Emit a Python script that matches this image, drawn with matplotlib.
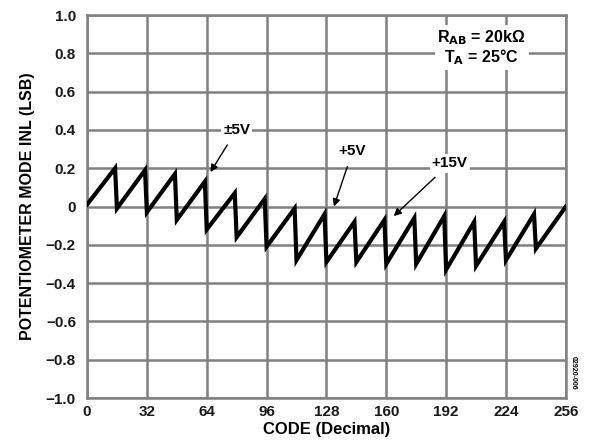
import matplotlib
matplotlib.use("Agg")
import matplotlib.pyplot as plt
import numpy as np

# INL sawtooth: value at start of each 16-code segment and at its end
seg_start = [0, 16, 32, 48, 64, 80, 96, 112, 128, 144, 160, 176, 192, 208, 224, 240]
trough = [0.01, -0.01, -0.03, -0.07, -0.12, -0.16, -0.21, -0.28, -0.29, -0.29,
          -0.30, -0.30, -0.33, -0.31, -0.28, -0.22]
peak = [0.20, 0.19, 0.17, 0.13, 0.07, 0.04, -0.01, -0.04, -0.08, -0.07,
        -0.06, -0.05, -0.08, -0.08, -0.04, 0.0]

x_ticks = [0, 32, 64, 96, 128, 160, 192, 224, 256]
y_ticks = [1.0, 0.8, 0.6, 0.4, 0.2, 0, -0.2, -0.4, -0.6, -0.8, -1.0]
y_labels = ["1.0", "0.8", "0.6", "0.4", "0.2", "0", "\u22120.2", "\u22120.4",
            "\u22120.6", "\u22120.8", "\u22121.0"]

codes = []
inl = []
for s, t, p in zip(seg_start, trough, peak):
    end = 256 if s == 240 else s + 15
    codes += [s, end]
    inl += [t, p]

plt.rcParams['font.family'] = ['Liberation Sans', 'DejaVu Sans']
plt.rcParams['font.weight'] = 'bold'

fig = plt.figure(figsize=(5.9, 4.46), dpi=100)
ax = fig.add_axes([0.1475, 0.1076, 0.8115, 0.8587])

ax.plot(codes, inl, color='black', lw=3, solid_joinstyle='miter', zorder=3)

ax.set_xlim(0, 256)
ax.set_ylim(-1.0, 1.0)
ax.set_xticks(x_ticks)
ax.set_yticks(y_ticks)
ax.set_yticklabels(y_labels)
ax.grid(True, color='#808080', lw=1.8)
for sp in ax.spines.values():
    sp.set_color('#808080')
    sp.set_linewidth(1.8)
ax.tick_params(length=0, labelsize=11, colors='#1a1a1a')
ax.tick_params(axis='y', pad=8)
ax.tick_params(axis='x', pad=5)
for lab in ax.get_xticklabels() + ax.get_yticklabels():
    lab.set_fontweight('bold')

ax.set_xlabel("CODE (Decimal)", fontsize=12, fontweight='bold', labelpad=2)
ax.set_ylabel("POTENTIOMETER MODE INL (LSB)", fontsize=11.5, fontweight='bold', labelpad=8)

box = dict(facecolor='white', edgecolor='none', pad=1.5)
arrow = dict(arrowstyle='-|>', color='black', lw=1, shrinkA=5, shrinkB=0)
ax.annotate("\u00b15V", xy=(66, 0.18), xytext=(80, 0.40), fontsize=11, fontweight='bold',
            ha='center', va='center', bbox=box, arrowprops=arrow)
ax.annotate("+5V", xy=(132, 0.0), xytext=(142, 0.29), fontsize=11, fontweight='bold',
            ha='center', va='center', bbox=box, arrowprops=arrow)
ax.annotate("+15V", xy=(164, -0.05), xytext=(194, 0.225), fontsize=11, fontweight='bold',
            ha='center', va='center', bbox=box, arrowprops=arrow)

ax.text(211, 0.83, "R$_{\\mathbf{AB}}$ = 20k\u03a9\nT$_{\\mathbf{A}}$ = 25\u00b0C", fontsize=11.5,
        fontweight='bold', ha='center', va='center', linespacing=1.05,
        bbox=dict(facecolor='white', edgecolor='none', pad=2))

fig.text(0.972, 0.165, "02920-006", rotation=270, fontsize=5, ha='center', va='center')

fig.savefig("out.png", dpi=100)
